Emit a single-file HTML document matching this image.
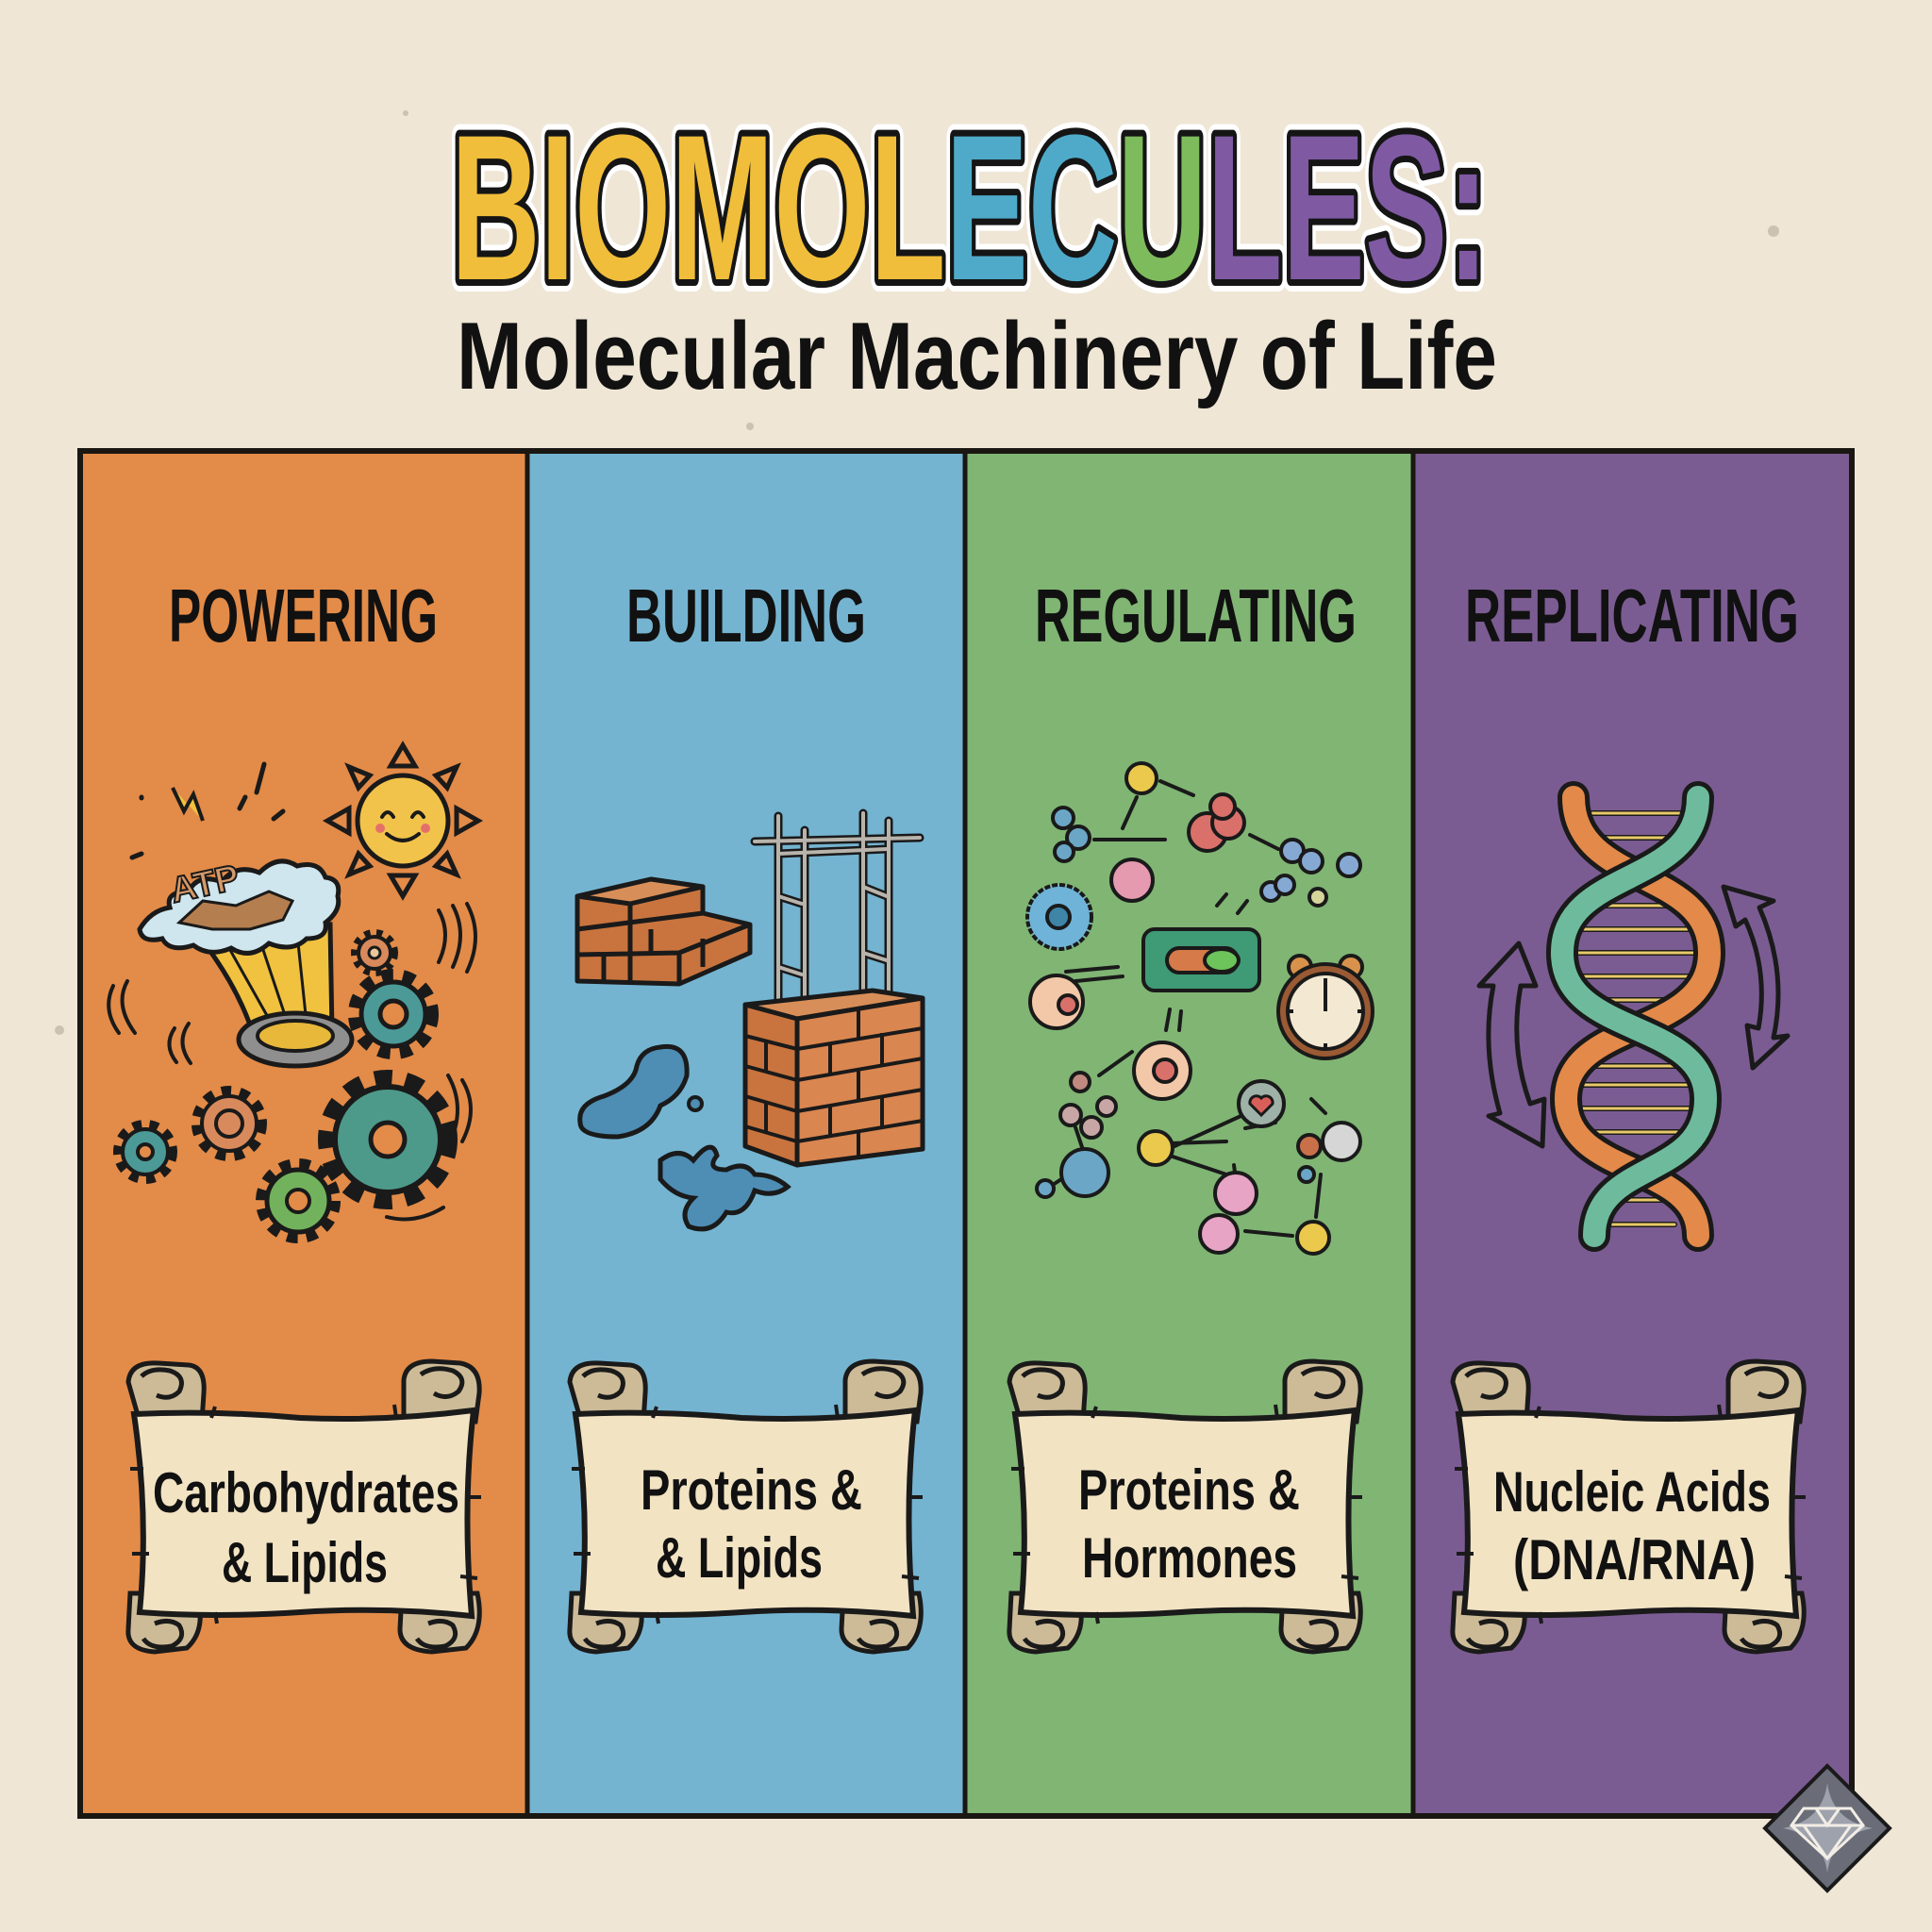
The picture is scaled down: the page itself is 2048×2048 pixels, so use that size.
<!DOCTYPE html>
<html><head><meta charset="utf-8"><style>
html,body{margin:0;padding:0;background:#EFE6D6;}
svg{display:block}
text{font-family:"Liberation Sans",sans-serif;font-weight:bold}
</style></head><body>
<svg width="2048" height="2048" viewBox="0 0 2048 2048" xmlns="http://www.w3.org/2000/svg">
<defs>
<g id="scroll">
 <!-- top curls -->
 <path d="M8,28 Q10,6 40,8 L72,10 Q90,12 88,40 L86,70 L20,70 Z" fill="#CDBB98" stroke="#1a1a1a" stroke-width="5"/>
 <path d="M22,22 q10,-10 30,-6 q18,6 10,22 q-10,10 -24,4" fill="none" stroke="#1a1a1a" stroke-width="5"/>
 <path d="M300,26 Q302,6 330,6 L360,8 Q382,12 380,40 L376,70 L300,70 Z" fill="#CDBB98" stroke="#1a1a1a" stroke-width="5"/>
 <path d="M318,20 q14,-10 34,-4 q16,8 6,22 q-12,10 -26,2" fill="none" stroke="#1a1a1a" stroke-width="5"/>
 <!-- bottom curls -->
 <path d="M10,252 L80,252 Q92,290 70,310 L36,314 Q6,312 8,290 Z" fill="#CDBB98" stroke="#1a1a1a" stroke-width="5"/>
 <path d="M24,300 q8,12 30,8 q16,-8 8,-22 q-10,-8 -26,-2" fill="none" stroke="#1a1a1a" stroke-width="5"/>
 <path d="M298,252 L378,252 Q386,290 366,310 L330,314 Q296,312 296,290 Z" fill="#CDBB98" stroke="#1a1a1a" stroke-width="5"/>
 <path d="M314,300 q8,12 30,8 q16,-8 8,-22 q-10,-8 -26,-2" fill="none" stroke="#1a1a1a" stroke-width="5"/>
 <!-- body -->
 <path d="M14,62 Q100,58 190,66 Q280,70 374,58 Q362,160 372,276 Q280,266 190,272 Q100,278 20,272 Q30,170 14,62 Z" fill="#F2E3C3" stroke="#1a1a1a" stroke-width="6"/>
 <path d="M24,120 l-14,0 M30,210 l-18,0 M366,150 l16,0 M360,234 l18,2 M96,66 l4,-12 M292,66 l-2,-14 M100,272 l2,12" stroke="#1a1a1a" stroke-width="4" fill="none"/>
</g>
<g id="gearT"><circle r="1" fill="none"/></g>
</defs>

<rect width="2048" height="2048" fill="#EFE6D6"/>
<g fill="#8a7d6a" opacity="0.35"><circle cx="1880" cy="245" r="6"/><circle cx="795" cy="452" r="4"/><circle cx="63" cy="1092" r="5"/><circle cx="430" cy="120" r="3"/></g>

<!-- Title -->
<g font-size="220">
<text x="478" y="296" textLength="1100" lengthAdjust="spacingAndGlyphs" fill="none" stroke="#fff" stroke-width="26" stroke-linejoin="round">BIOMOLECULES:</text>
<text x="478" y="296" textLength="1100" lengthAdjust="spacingAndGlyphs" fill="none" stroke="#151515" stroke-width="14" stroke-linejoin="round">BIOMOLECULES:</text>
<text x="478" y="296" textLength="1100" lengthAdjust="spacingAndGlyphs"><tspan fill="#F0BE3A">BIOMOL</tspan><tspan fill="#4FAAC9">EC</tspan><tspan fill="#7EBB5C">U</tspan><tspan fill="#7F5AA3">LES:</tspan></text>
</g>
<text x="484" y="412" font-size="101" textLength="1103" lengthAdjust="spacingAndGlyphs" fill="#111">Molecular Machinery of Life</text>

<!-- Panels -->
<rect x="85" y="478" width="474" height="1447" fill="#E38B48"/>
<rect x="559" y="478" width="464" height="1447" fill="#74B4D1"/>
<rect x="1023" y="478" width="475" height="1447" fill="#80B574"/>
<rect x="1498" y="478" width="465" height="1447" fill="#7B5C92"/>
<g stroke="#1a1612" stroke-width="5"><line x1="559" y1="478" x2="559" y2="1925"/><line x1="1023" y1="478" x2="1023" y2="1925"/><line x1="1498" y1="478" x2="1498" y2="1925"/></g>
<rect x="85" y="478" width="1878" height="1447" fill="none" stroke="#1a1612" stroke-width="6"/>

<!-- Headings -->
<g font-size="80" fill="#111">
<text x="179" y="680" textLength="285" lengthAdjust="spacingAndGlyphs">POWERING</text>
<text x="664" y="680" textLength="254" lengthAdjust="spacingAndGlyphs">BUILDING</text>
<text x="1097" y="680" textLength="341" lengthAdjust="spacingAndGlyphs">REGULATING</text>
<text x="1553" y="680" textLength="354" lengthAdjust="spacingAndGlyphs">REPLICATING</text>
</g>

<!-- ===== Column 1: Powering ===== -->
<g stroke="#1a1a1a" stroke-linecap="round" fill="none" stroke-width="5">
 <!-- sun rays -->
 <path d="M427,790 L440,812 L414,812 Z M427,950 L440,928 L414,928 Z M347,870 L370,857 L370,883 Z M507,870 L484,857 L484,883 Z M370,813 L392,822 L380,835 Z M484,813 L462,822 L474,835 Z M370,927 L392,918 L380,905 Z M484,927 L462,918 L474,905 Z"/>
</g>
<circle cx="427" cy="870" r="48" fill="#F2C34A" stroke="#1a1a1a" stroke-width="5"/>
<path d="M405,866 q6,-10 12,0 M437,866 q6,-10 12,0 M410,884 q17,14 34,0" fill="none" stroke="#1a1a1a" stroke-width="4" stroke-linecap="round"/>
<circle cx="403" cy="878" r="5" fill="#E5706A"/><circle cx="451" cy="878" r="5" fill="#E5706A"/>
<!-- cup -->
<path d="M205,985 L350,980 L352,1095 L268,1095 Q250,1040 205,985 Z" fill="#F0C23F" stroke="#1a1a1a" stroke-width="5"/>
<path d="M240,1000 L285,1080 M275,995 L305,1085 M315,990 L325,1085" stroke="#1a1a1a" stroke-width="3" fill="none"/>
<ellipse cx="313" cy="1102" rx="60" ry="28" fill="#8F8F8F" stroke="#1a1a1a" stroke-width="5"/>
<ellipse cx="313" cy="1098" rx="40" ry="16" fill="#E7B83A" stroke="#1a1a1a" stroke-width="4"/>
<!-- splash -->
<path d="M148,985 Q160,965 180,962 Q175,945 200,945 Q210,925 235,935 Q250,915 275,925 Q295,905 315,918 Q338,912 345,930 Q362,932 358,950 Q362,965 345,978 Q348,995 325,995 Q310,1010 285,1000 Q265,1018 245,1005 Q222,1015 205,1002 Q180,1010 172,995 Q150,1000 148,985 Z" fill="#CFE6EE" stroke="#1a1a1a" stroke-width="5"/>
<path d="M190,978 L215,955 L250,960 L285,945 L310,955 L300,975 L265,985 L225,985 Z" fill="#B57E4E" stroke="#1a1a1a" stroke-width="3"/>
<text x="180" y="950" font-size="38" fill="#D59A6A" stroke="#1a1a1a" stroke-width="2" transform="rotate(-12 215 935)">ATP</text>
<path d="M183,835 L195,860 L205,842 L215,870" fill="#F0C23F" stroke="#1a1a1a" stroke-width="4"/>
<path d="M280,810 l-8,30 M260,845 l-6,12 M300,860 l-10,8 M150,845 l0,1 M150,905 l-10,4" stroke="#1a1a1a" stroke-width="5" fill="none" stroke-linecap="round"/>
<!-- motion lines -->
<g fill="none" stroke="#1a1a1a" stroke-width="4" stroke-linecap="round">
 <path d="M465,965 q14,25 0,55 M480,960 q16,30 0,65 M495,958 q18,34 0,72"/>
 <path d="M135,1040 q-14,25 8,55 M120,1045 q-12,25 6,50"/>
 <path d="M200,1085 q-14,20 2,42 M185,1090 q-12,18 2,36"/>
 <path d="M475,1140 q20,35 0,75 M490,1145 q18,30 0,65 M410,1290 q30,8 60,-10"/>
</g>
<!-- gears -->
<g stroke="#1a1a1a">
 <circle cx="397" cy="1010" r="20" fill="none" stroke-width="10" stroke-dasharray="6 6"/>
 <circle cx="397" cy="1010" r="17" fill="#D98A5C" stroke-width="4"/><circle cx="397" cy="1010" r="6" fill="#E8C79A" stroke-width="3"/>
 <circle cx="417" cy="1075" r="40" fill="none" stroke-width="16" stroke-dasharray="12 10"/>
 <circle cx="417" cy="1075" r="34" fill="#4C9A97" stroke-width="5"/><circle cx="417" cy="1075" r="14" fill="#E38B48" stroke-width="5"/>
 <circle cx="154" cy="1221" r="28" fill="none" stroke-width="12" stroke-dasharray="9 8"/>
 <circle cx="154" cy="1221" r="24" fill="#4C9A97" stroke-width="4"/><circle cx="154" cy="1221" r="8" fill="#E38B48" stroke-width="4"/>
 <circle cx="243" cy="1191" r="34" fill="none" stroke-width="12" stroke-dasharray="10 9"/>
 <circle cx="243" cy="1191" r="29" fill="#D98A5C" stroke-width="4"/><circle cx="243" cy="1191" r="14" fill="none" stroke-width="4"/>
 <circle cx="316" cy="1273" r="38" fill="none" stroke-width="14" stroke-dasharray="11 9"/>
 <circle cx="316" cy="1273" r="33" fill="#72B25C" stroke-width="5"/><circle cx="316" cy="1273" r="12" fill="#E38B48" stroke-width="4"/>
 <circle cx="411" cy="1208" r="64" fill="none" stroke-width="20" stroke-dasharray="18 14"/>
 <circle cx="411" cy="1208" r="56" fill="#4E9A8A" stroke-width="6"/><circle cx="411" cy="1208" r="18" fill="#E38B48" stroke-width="5"/>
</g>

<!-- ===== Column 2: Building ===== -->
<!-- stair bricks -->
<g stroke="#1a1a1a" stroke-width="5" stroke-linejoin="round">
 <path d="M612,950 L690,932 L745,940 L745,968 L795,980 L795,1010 L720,1043 L612,1040 Z" fill="#C9743E"/>
 <path d="M612,950 L690,932 L745,940 L668,958 Z" fill="#D88E58"/>
 <path d="M668,958 L668,1040 M612,985 L745,968 M612,1012 L720,1010 L795,980 M720,1010 L720,1043 M690,985 L690,1012 M640,1012 L640,1040 M745,995 L745,1025" fill="none"/>
</g>
<!-- rods -->
<g stroke="#1a1a1a" stroke-width="9" stroke-linecap="round"><path d="M825,865 V1072 M853,880 V1075 M915,862 V1060 M942,870 V1065 M800,892 L975,888 M825,905 L940,900 M825,950 L850,958 M825,1025 L850,1033 M915,940 L940,950 M915,1010 L940,1018"/></g>
<g stroke="#B8B4AC" stroke-width="4" stroke-linecap="round"><path d="M825,865 V1072 M853,880 V1075 M915,862 V1060 M942,870 V1065 M800,892 L975,888 M825,905 L940,900 M825,950 L850,958 M825,1025 L850,1033 M915,940 L940,950 M915,1010 L940,1018"/></g>
<!-- brick column -->
<g stroke="#1a1a1a" stroke-width="5" stroke-linejoin="round">
 <path d="M790,1065 L925,1050 L978,1058 L845,1080 Z" fill="#D88E58"/>
 <path d="M790,1065 L845,1080 L845,1235 L790,1215 Z" fill="#C9743E"/>
 <path d="M845,1080 L978,1058 L978,1218 L845,1235 Z" fill="#DA8650"/>
 <path d="M845,1112 L978,1090 M845,1145 L978,1122 M845,1178 L978,1155 M845,1210 L978,1188 M790,1098 L845,1112 M790,1130 L845,1145 M790,1162 L845,1178 M790,1194 L845,1210 M910,1070 L910,1100 M880,1108 L880,1140 M935,1095 L935,1128 M910,1135 L910,1168 M880,1173 L880,1205 M935,1162 L935,1195 M910,1198 L910,1226 M812,1102 L812,1135 M812,1168 L812,1200" fill="none" stroke-width="4"/>
</g>
<!-- water -->
<path d="M700,1110 Q730,1105 728,1140 Q722,1162 700,1172 Q690,1200 655,1205 Q615,1205 615,1190 Q612,1170 640,1162 Q672,1150 675,1130 Q680,1112 700,1110 Z" fill="#4E8DB4" stroke="#1a1a1a" stroke-width="5"/>
<circle cx="737" cy="1170" r="7" fill="#4E8DB4" stroke="#1a1a1a" stroke-width="4"/>
<path d="M700,1230 Q720,1215 735,1230 Q755,1205 760,1225 Q748,1240 770,1240 Q790,1230 800,1245 Q820,1245 835,1258 Q820,1270 800,1262 Q790,1290 770,1285 Q755,1310 730,1300 Q720,1285 735,1270 Q715,1268 700,1250 Z" fill="#4E8DB4" stroke="#1a1a1a" stroke-width="5"/>

<!-- ===== Column 3: Regulating ===== -->
<g stroke="#1a1a1a" stroke-width="4" fill="none" stroke-linecap="round">
 <path d="M1230,828 L1265,843 M1190,878 L1205,845 M1160,890 L1235,890 M1325,885 L1355,900 M1312,968 L1322,955 M1290,960 L1300,948 M1130,1030 L1185,1025 M1140,1040 L1190,1035 M1236,1092 L1240,1070 M1250,1092 L1252,1072 M1165,1140 L1200,1115 M1322,1180 L1245,1215 M1300,1210 L1240,1212 M1352,1190 L1320,1196 M1300,1245 L1240,1225 M1400,1245 L1395,1290 M1370,1310 L1320,1305 M1405,1180 L1390,1165 M1140,1195 L1150,1225 M1125,1250 L1110,1260 M1135,885 L1128,902 M1310,1250 L1308,1235"/>
</g>
<g stroke="#1a1a1a" stroke-width="4">
 <circle cx="1210" cy="825" r="16" fill="#EBC94D"/>
 <circle cx="1127" cy="867" r="11" fill="#6BA6C7"/><circle cx="1143" cy="888" r="12" fill="#6BA6C7"/><circle cx="1128" cy="903" r="10" fill="#6BA6C7"/>
 <circle cx="1280" cy="882" r="20" fill="#D9706A"/><circle cx="1302" cy="872" r="17" fill="#D9706A"/><circle cx="1296" cy="855" r="13" fill="#D9706A"/>
 <circle cx="1370" cy="902" r="12" fill="#86A9D4"/><circle cx="1390" cy="913" r="12" fill="#86A9D4"/><circle cx="1430" cy="917" r="12" fill="#86A9D4"/>
 <circle cx="1347" cy="945" r="10" fill="#86A9D4"/><circle cx="1362" cy="938" r="10" fill="#86A9D4"/><circle cx="1397" cy="951" r="9" fill="#D5D49A"/>
 <circle cx="1200" cy="933" r="22" fill="#E59AB0"/>
 <circle cx="1123" cy="972" r="34" fill="#6FB3D8" stroke-dasharray="6 2"/><circle cx="1122" cy="972" r="12" fill="#3E85A8"/>
 <circle cx="1120" cy="1062" r="28" fill="#F3C8A8"/><circle cx="1132" cy="1065" r="10" fill="#D9706A"/>
 <rect x="1212" y="985" width="123" height="65" rx="12" fill="#3F9A76"/>
 <rect x="1237" y="1005" width="75" height="26" rx="13" fill="#D57A48"/><ellipse cx="1295" cy="1018" rx="18" ry="12" fill="#6CC45A" stroke-width="4"/>
 <circle cx="1232" cy="1135" r="30" fill="#F3C8A8"/><circle cx="1235" cy="1135" r="12" fill="#D9706A"/>
 <circle cx="1145" cy="1147" r="10" fill="#C08A80"/><circle cx="1135" cy="1182" r="11" fill="#C9A6A6"/><circle cx="1173" cy="1173" r="10" fill="#C9A6A6"/><circle cx="1157" cy="1195" r="11" fill="#C9A6A6"/>
 <circle cx="1150" cy="1243" r="25" fill="#6BA6C7"/><circle cx="1108" cy="1260" r="9" fill="#6BA6C7"/>
 <circle cx="1337" cy="1170" r="24" fill="#9FB2A8"/><path d="M1337,1182 l-12,-12 a7,7 0 0 1 12,-6 a7,7 0 0 1 12,6 z" fill="#D9605A" stroke-width="3"/>
 <circle cx="1225" cy="1217" r="18" fill="#EBC94D"/>
 <circle cx="1422" cy="1210" r="20" fill="#D6D6D6"/><circle cx="1388" cy="1215" r="12" fill="#C9704A"/><circle cx="1385" cy="1245" r="8" fill="#6BA6C7"/>
 <circle cx="1310" cy="1265" r="22" fill="#E7A4C4"/><circle cx="1292" cy="1308" r="20" fill="#E7A4C4"/>
 <circle cx="1392" cy="1312" r="17" fill="#EBC94D"/>
</g>
<!-- clock -->
<g stroke="#1a1a1a" stroke-width="4">
 <circle cx="1378" cy="1025" r="12" fill="#D8924C"/><circle cx="1432" cy="1025" r="12" fill="#D8924C"/>
 <circle cx="1405" cy="1072" r="50" fill="#9A5A34"/><circle cx="1405" cy="1072" r="40" fill="#F3E8D2"/>
 <path d="M1405,1072 V1040 M1405,1037 v6 M1445,1072 h-6 M1365,1072 h6 M1405,1112 v-6" fill="none"/>
</g>

<!-- ===== Column 4: DNA ===== -->
<g fill="none" stroke-linecap="round">
 <g stroke="#1a1a1a" stroke-width="6">
  <path d="M1680,862 H1790 M1675,888 H1795 M1680,960 H1790 M1660,985 H1810 M1658,1010 H1812 M1662,1035 H1808 M1680,1060 H1790 M1690,1130 H1780 M1675,1150 H1795 M1670,1175 H1800 M1680,1200 H1790 M1690,1272 H1780 M1700,1298 H1775"/>
 </g>
 <g stroke="#E9C96A" stroke-width="3">
  <path d="M1680,862 H1790 M1675,888 H1795 M1680,960 H1790 M1660,985 H1810 M1658,1010 H1812 M1662,1035 H1808 M1680,1060 H1790 M1690,1130 H1780 M1675,1150 H1795 M1670,1175 H1800 M1680,1200 H1790 M1690,1272 H1780 M1700,1298 H1775"/>
 </g>
 <path d="M1668,845 C1668,940 1812,920 1812,1010 C1812,1100 1660,1080 1660,1165 C1660,1250 1800,1230 1800,1310" stroke="#1a1a1a" stroke-width="34"/>
 <path d="M1668,845 C1668,940 1812,920 1812,1010 C1812,1100 1660,1080 1660,1165 C1660,1250 1800,1230 1800,1310" stroke="#E3894A" stroke-width="24"/>
 <path d="M1800,845 C1800,940 1656,920 1656,1010 C1656,1100 1808,1080 1808,1165 C1808,1250 1690,1230 1690,1310" stroke="#1a1a1a" stroke-width="34"/>
 <path d="M1800,845 C1800,940 1656,920 1656,1010 C1656,1100 1808,1080 1808,1165 C1808,1250 1690,1230 1690,1310" stroke="#6DBB9C" stroke-width="24"/>
</g>
<!-- arrows -->
<g fill="#7B5C92" stroke="#1a1a1a" stroke-width="5" stroke-linejoin="round">
 <path d="M1610,1000 L1568,1045 L1583,1045 Q1570,1110 1590,1180 L1578,1183 L1635,1215 L1637,1165 L1622,1170 Q1600,1110 1612,1045 L1628,1045 Z"/>
 <path d="M1827,940 L1880,955 L1865,962 Q1895,1030 1880,1100 L1895,1098 L1858,1132 L1852,1087 L1864,1090 Q1875,1030 1850,975 L1840,982 Z"/>
</g>

<!-- ===== Scrolls ===== -->
<use href="#scroll" x="128" y="1437"/>
<use href="#scroll" x="596" y="1437"/>
<use href="#scroll" x="1062" y="1437"/>
<use href="#scroll" x="1532" y="1437"/>
<g font-size="60" fill="#111">
 <text x="162" y="1603" textLength="325" lengthAdjust="spacingAndGlyphs">Carbohydrates</text>
 <text x="235" y="1677" textLength="176" lengthAdjust="spacingAndGlyphs">&amp; Lipids</text>
 <text x="679" y="1600" textLength="235" lengthAdjust="spacingAndGlyphs">Proteins &amp;</text>
 <text x="695" y="1672" textLength="177" lengthAdjust="spacingAndGlyphs">&amp; Lipids</text>
 <text x="1143" y="1600" textLength="235" lengthAdjust="spacingAndGlyphs">Proteins &amp;</text>
 <text x="1147" y="1672" textLength="228" lengthAdjust="spacingAndGlyphs">Hormones</text>
 <text x="1583" y="1602" textLength="294" lengthAdjust="spacingAndGlyphs">Nucleic Acids</text>
 <text x="1604" y="1674" textLength="257" lengthAdjust="spacingAndGlyphs">(DNA/RNA)</text>
</g>

<!-- logo -->
<path d="M1937,1872 L2003,1938 L1937,2004 L1871,1938 Z" fill="#6A6D78" stroke="#1a1a1a" stroke-width="4"/>
<path d="M1937,1890 Q1942,1930 1985,1938 Q1942,1946 1937,1985 Q1932,1946 1890,1938 Q1932,1930 1937,1890 Z" fill="#9EA2AD"/>
<path d="M1912,1917 L1962,1917 L1975,1935 L1937,1970 L1899,1935 Z M1899,1935 H1975 M1925,1917 L1937,1935 L1950,1917 M1912,1935 L1937,1970 L1962,1935" fill="none" stroke="#F2EEE6" stroke-width="3"/>
</svg>
</body></html>
